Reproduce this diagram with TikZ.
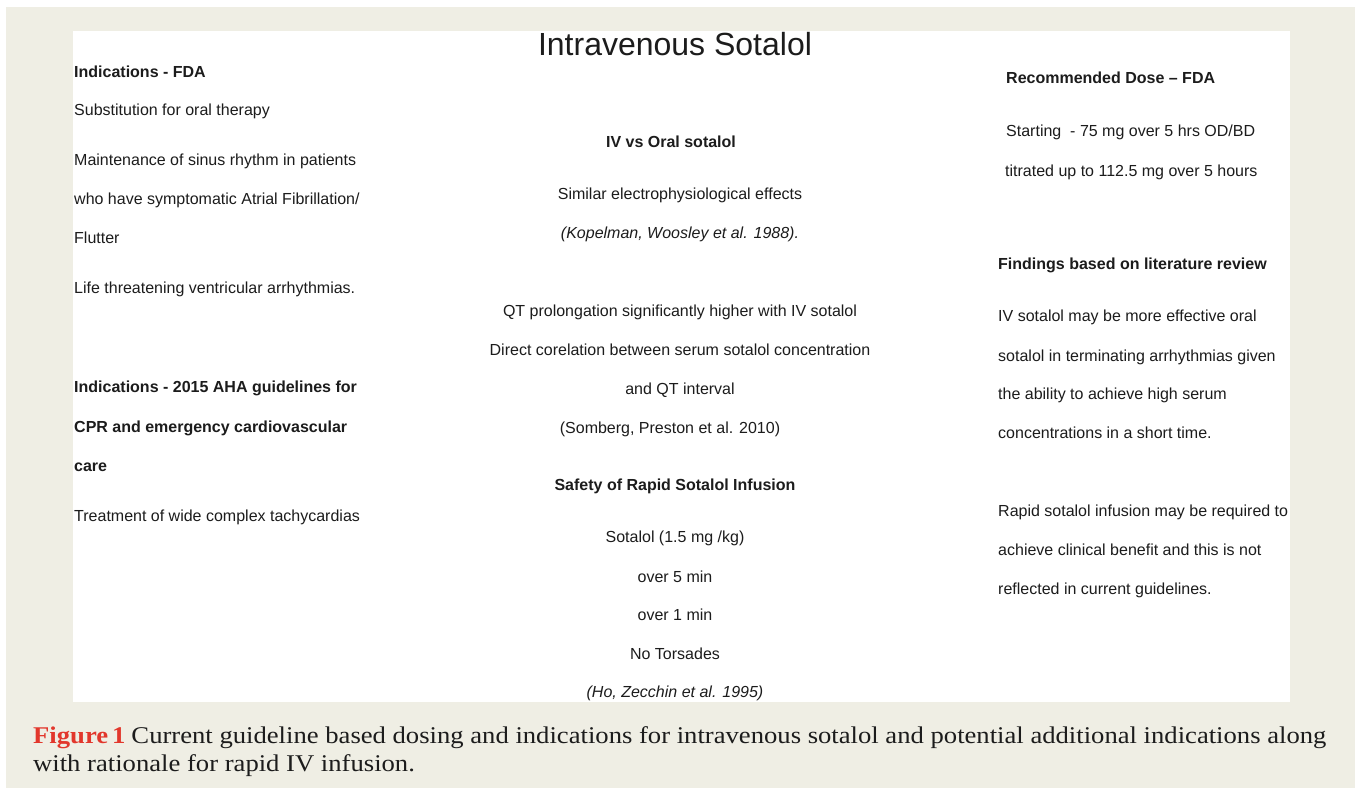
\documentclass[tikz,border=0pt]{standalone}
\usepackage{fontspec}
\setmainfont{Liberation Sans}
\newfontfamily\capfont[FakeStretch=1.11]{Liberation Serif}
\definecolor{beige}{HTML}{EFEEE4}
\definecolor{txt}{HTML}{1C1C1C}
\definecolor{figred}{HTML}{E2372C}
\tikzset{
  body/.style={inner sep=0pt, anchor=base west, text=txt, font=\fontsize{16}{19}\selectfont},
  bodyc/.style={body, anchor=base},
  head/.style={body, font=\fontsize{16}{19}\selectfont\bfseries},
  headc/.style={head, anchor=base},
  cite/.style={bodyc, font=\fontsize{16}{19}\selectfont\itshape},
  captext/.style={inner sep=0pt, anchor=base west, text=txt, font=\capfont\fontsize{24}{28}\selectfont},
}
\begin{document}
\begin{tikzpicture}[x=1pt,y=-1pt]
\useasboundingbox (0,0) rectangle (1360,789);
\fill[white] (0,0) rectangle (1360,789);
\fill[beige] (6,7) rectangle (1355,788);
\fill[white] (73,31) rectangle (1290,702);
\begin{scope}
\clip (73,31) rectangle (1290,702);
% title
\node[inner sep=0pt, anchor=base, text=txt, font=\fontsize{32}{38}\selectfont] (title) at (675,55.5) {Intravenous Sotalol};
% left column
\node[head] (l1) at (74,78) {Indications - FDA};
\node[body] (l2) at (74,116) {Substitution for oral therapy};
\node[body] (l3) at (74,165) {Maintenance of sinus rhythm in patients};
\node[body] (l4) at (74,204) {who have symptomatic Atrial Fibrillation/};
\node[body] (l5) at (74,243) {Flutter};
\node[body] (l6) at (74,293) {Life threatening ventricular arrhythmias.};
\node[head] (l7) at (74,392) {Indications - 2015 AHA guidelines for};
\node[head] (l8) at (74,432) {CPR and emergency cardiovascular};
\node[head] (l9) at (74,471) {care};
\node[body] (l10) at (74,521) {Treatment of wide complex tachycardias};
% centre column
\node[headc] (c1) at (671,147) {IV vs Oral sotalol};
\node[bodyc] (c2) at (680,199) {Similar electrophysiological effects};
\node[cite] (c3) at (680,238) {(Kopelman, Woosley et al. 1988).};
\node[bodyc] (c4) at (680,316) {QT prolongation significantly higher with IV sotalol};
\node[bodyc] (c5) at (680,355) {Direct corelation between serum sotalol concentration};
\node[bodyc] (c6) at (680,394) {and QT interval};
\node[bodyc] (c7) at (670,433) {(Somberg, Preston et al. 2010)};
\node[headc] (c8) at (675,490) {Safety of Rapid Sotalol Infusion};
\node[bodyc] (c9) at (675,542) {Sotalol (1.5 mg /kg)};
\node[bodyc] (c10) at (675,582) {over 5 min};
\node[bodyc] (c11) at (675,620) {over 1 min};
\node[bodyc] (c12) at (675,659) {No Torsades};
\node[cite] (c13) at (675,697) {(Ho, Zecchin et al. 1995)};
% right column
\node[head] (r1) at (1006,84) {Recommended Dose – FDA};
\node[body] (r2) at (1006,136) {Starting \ - 75 mg over 5 hrs OD/BD};
\node[body] (r3) at (1005,176) {titrated up to 112.5 mg over 5 hours};
\node[head] (r4) at (998,269) {Findings based on literature review};
\node[body] (r5) at (998,321) {IV sotalol may be more effective oral};
\node[body] (r6) at (998,361) {sotalol in terminating arrhythmias given};
\node[body] (r7) at (998,399) {the ability to achieve high serum};
\node[body] (r8) at (998,438) {concentrations in a short time.};
\node[body] (r9) at (998,516) {Rapid sotalol infusion may be required to};
\node[body] (r10) at (998,555) {achieve clinical benefit and this is not};
\node[body] (r11) at (998,594) {reflected in current guidelines.};
\end{scope}
% caption
\node[captext] (cap1) at (33,743) {\textcolor{figred}{\bfseries Figure\,1}\hspace{6pt}Current guideline based dosing and indications for intravenous sotalol and potential additional indications along};
\node[captext] (cap2) at (33,771) {with rationale for rapid IV infusion.};
\end{tikzpicture}
\end{document}
